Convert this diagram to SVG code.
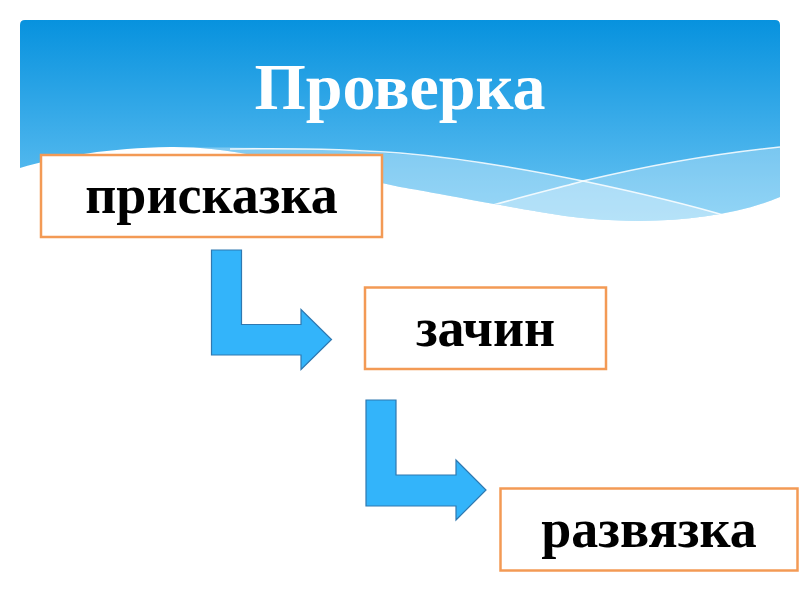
<svg xmlns="http://www.w3.org/2000/svg" width="800" height="600" viewBox="0 0 800 600">
<defs>
<linearGradient id="bg" x1="0" y1="20" x2="0" y2="225" gradientUnits="userSpaceOnUse">
<stop offset="0" stop-color="#0792DE"/>
<stop offset="0.55" stop-color="#3FAEEA"/>
<stop offset="1" stop-color="#6CC6F3"/>
</linearGradient>
<clipPath id="bannerClip">
<path d="M20,25 Q20,20 25,20 L775,20 Q780,20 780,25 L780,197 C720,222 630,228 540,212 C470,200 430,192 400,187 C330,172 240,146 170,147 C110,148 60,156 20,168 Z"/>
</clipPath>
<style>
.box{fill:#FFFFFF;stroke:#F39A55;stroke-width:2.5}
.lbl{font-family:"Liberation Serif","Times New Roman",serif;font-weight:bold;fill:#000000;text-anchor:middle}
.arrow{fill:#33B4FA;stroke:#2F78B0;stroke-width:1.2;stroke-linejoin:miter}
</style>
</defs>
<rect width="800" height="600" fill="#FFFFFF"/>
<g id="banner">
<g clip-path="url(#bannerClip)">
<rect x="20" y="20" width="760" height="220" fill="url(#bg)"/>
<path d="M150,148 C260,146 340,150 400,154 C470,160 530,170 583,181 C640,193 690,205 720,214 L780,240 L20,240 Z" fill="#FFFFFF" opacity="0.32"/>
<path d="M493,205 C540,192 570,185 583,181 C650,165 720,153 780,147 L780,240 L493,240 Z" fill="#FFFFFF" opacity="0.28"/>
<path d="M230,149 C300,148 360,150 400,153 C470,159 530,170 583,181 C640,193 690,205 730,217" fill="none" stroke="#FFFFFF" stroke-width="1.5" opacity="0.85"/>
<path d="M493,205 C540,192 570,185 583,181 C650,165 720,153 780,147" fill="none" stroke="#FFFFFF" stroke-width="1.5" opacity="0.85"/>
</g>
<text x="400" y="109" font-family="'Liberation Serif','Times New Roman',serif" font-weight="bold" font-size="66" fill="#FFFFFF" text-anchor="middle">Проверка</text>
</g>
<g id="connectors">
<path class="arrow" d="M211.5,250 L241.5,250 L241.5,324.5 L301,324.5 L301,309.5 L331.5,339.5 L301,369.5 L301,355 L211.5,355 Z"/>
<path class="arrow" d="M366,400 L396,400 L396,475 L456,475 L456,460 L486,490 L456,520 L456,506 L366,506 Z"/>
</g>
<g id="node-priskazka">
<rect class="box" x="41" y="155" width="341" height="82"/>
<text class="lbl" x="211.5" y="213" font-size="54">присказка</text>
</g>
<g id="node-zachin">
<rect class="box" x="365" y="287.5" width="241" height="81.5"/>
<text class="lbl" x="485.5" y="346" font-size="54">зачин</text>
</g>
<g id="node-razvyazka">
<rect class="box" x="500.5" y="488.5" width="297" height="82"/>
<text class="lbl" x="649" y="547" font-size="54">развязка</text>
</g>
</svg>
